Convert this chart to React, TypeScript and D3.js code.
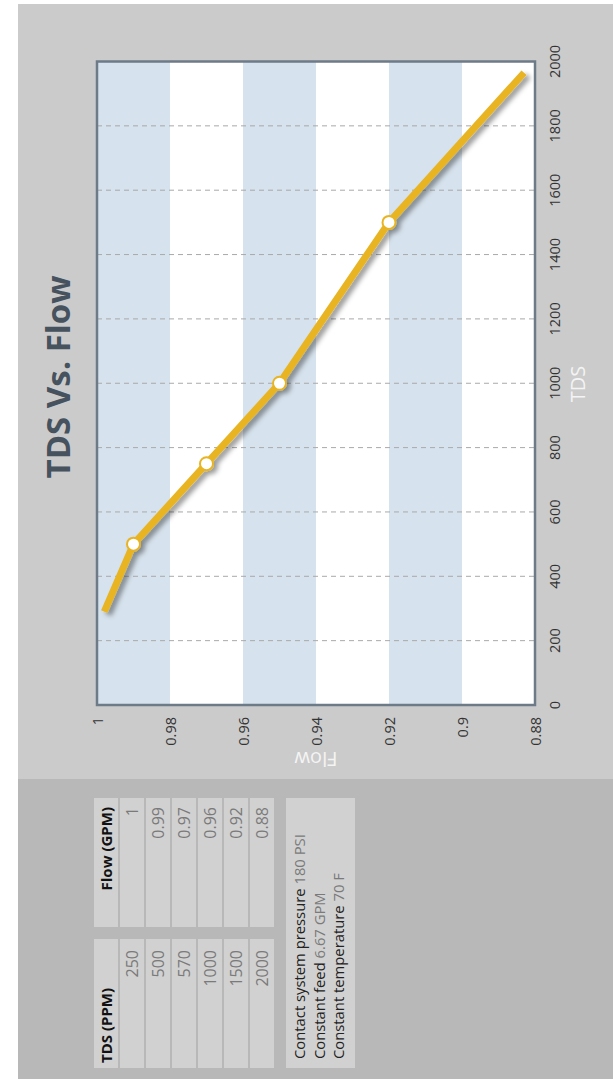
import React from "react";
import * as d3 from "d3";

// ---- data ----
const lineTDS = [290, 500, 750, 1000, 1500, 1965];
const lineFlow = [0.998, 0.99, 0.97, 0.95, 0.92, 0.883];
const hasMarker = [false, true, true, true, true, false];

const flowTicks = [1, 0.98, 0.96, 0.94, 0.92, 0.9, 0.88];
const flowTickLabels = ["1", "0.98", "0.96", "0.94", "0.92", "0.9", "0.88"];
const tdsTicks = [0, 200, 400, 600, 800, 1000, 1200, 1400, 1600, 1800, 2000];

const tableTDS = ["250", "500", "570", "1000", "1500", "2000"];
const tableFlow = ["1", "0.99", "0.97", "0.96", "0.92", "0.88"];
const noteLabels = ["Contact system pressure", "Constant feed", "Constant temperature"];
const noteValues = ["180 PSI", "6.67 GPM", "70 F"];

const FONT = "'Open Sans', 'Noto Sans', sans-serif";

export default function App() {
  const W = 613;
  const H = 1079;
  const x = d3.scaleLinear().domain([1, 0.88]).range([97, 535]);
  const y = d3.scaleLinear().domain([0, 2000]).range([705, 61.5]);

  const pts = lineTDS.map((t, i) => ({ t, f: lineFlow[i], m: hasMarker[i] }));
  const line = d3
    .line<{ t: number; f: number }>()
    .x((d) => x(d.f))
    .y((d) => y(d.t));

  const gold = "#e8b422";
  const colX = (i: number) => 94 + i * 26;
  const colW = 24;

  return (
    <svg
      width={W}
      height={H}
      style={{ position: "absolute", left: 0, top: 0, display: "block" }}
      fontFamily={FONT}
    >
      <defs>
        <filter id="shadow" x="-20%" y="-20%" width="140%" height="140%">
          <feDropShadow dx="4" dy="3" stdDeviation="2.5" floodColor="#000" floodOpacity="0.4" />
        </filter>
      </defs>
      <rect x={0} y={0} width={W} height={H} fill="#ffffff" />
      <rect x={18} y={4} width={W - 18} height={775} fill="#cbcbcb" />
      <rect x={18} y={779} width={W - 18} height={H - 779} fill="#b8b8b8" />

      {/* title */}
      <text
        transform={`translate(70,377) rotate(-90)`}
        textAnchor="middle"
        fontSize={33}
        fontWeight="bold"
        fill="#46525e"
      >
        TDS Vs. Flow
      </text>

      {/* bands */}
      {flowTicks.slice(0, -1).map((f, i) => (
        <rect
          key={"b" + i}
          x={x(f)}
          y={y(2000)}
          width={x(flowTicks[i + 1]) - x(f)}
          height={y(0) - y(2000)}
          fill={i % 2 === 0 ? "#d6e2ed" : "#ffffff"}
        />
      ))}

      {/* gridlines */}
      {tdsTicks.slice(1, -1).map((t) => (
        <line
          key={"g" + t}
          x1={x(1)}
          x2={x(0.88)}
          y1={y(t)}
          y2={y(t)}
          stroke="#a9a9a9"
          strokeWidth={1}
          strokeDasharray="5,4"
        />
      ))}

      {/* line */}
      <g filter="url(#shadow)">
        <path d={line(pts) || ""} fill="none" stroke={gold} strokeWidth={7} strokeLinejoin="round" />
        {pts
          .filter((p) => p.m)
          .map((p, i) => (
            <circle key={"m" + i} cx={x(p.f)} cy={y(p.t)} r={6.5} fill="#ffffff" stroke={gold} strokeWidth={2} />
          ))}
      </g>

      {/* frame */}
      <rect
        x={x(1)}
        y={y(2000)}
        width={x(0.88) - x(1)}
        height={y(0) - y(2000)}
        fill="none"
        stroke="#6d7a88"
        strokeWidth={2.5}
      />

      {/* TDS tick labels */}
      {tdsTicks.map((t) => (
        <text
          key={"tl" + t}
          transform={`translate(560,${y(t)}) rotate(-90)`}
          textAnchor="middle"
          fontSize={14.5}
          fill="#333"
        >
          {t}
        </text>
      ))}
      <text transform={`translate(585,384) rotate(-90)`} textAnchor="middle" fontSize={20} fill="#f4f4f4">
        TDS
      </text>

      {/* Flow tick labels */}
      {flowTicks.map((f, i) => (
        <text
          key={"fl" + i}
          transform={`translate(${x(f) + 5.5},717) rotate(-90)`}
          textAnchor="end"
          fontSize={14.5}
          fill="#333"
        >
          {flowTickLabels[i]}
        </text>
      ))}
      <text transform={`translate(316,752) rotate(180)`} textAnchor="middle" fontSize={20} fill="#f4f4f4">
        Flow
      </text>

      {/* table */}
      {[0, 1, 2, 3, 4, 5, 6].map((i) => (
        <g key={"c" + i}>
          <rect x={colX(i)} y={798} width={colW} height={129} fill="#d1d1d1" />
          <rect x={colX(i)} y={939} width={colW} height={129} fill="#d1d1d1" />
        </g>
      ))}
      <text
        transform={`translate(${colX(0) + colW / 2 + 5.5},1063) rotate(-90)`}
        textAnchor="start"
        fontSize={15}
        fontWeight="bold"
        fill="#111"
      >
        TDS (PPM)
      </text>
      <text
        transform={`translate(${colX(0) + colW / 2 + 5.5},807) rotate(-90)`}
        textAnchor="end"
        fontSize={15}
        fontWeight="bold"
        fill="#111"
      >
        Flow (GPM)
      </text>
      {tableTDS.map((v, i) => (
        <text
          key={"tt" + i}
          transform={`translate(${colX(i + 1) + colW / 2 + 5.5},950) rotate(-90)`}
          textAnchor="end"
          fontSize={16}
          fill="#7a7a7a"
        >
          {v}
        </text>
      ))}
      {tableFlow.map((v, i) => (
        <text
          key={"tf" + i}
          transform={`translate(${colX(i + 1) + colW / 2 + 5.5},807) rotate(-90)`}
          textAnchor="end"
          fontSize={16}
          fill="#7a7a7a"
        >
          {v}
        </text>
      ))}

      {/* notes */}
      <rect x={286} y={798} width={69} height={270} fill="#d1d1d1" />
      {noteLabels.map((l, i) => (
        <text
          key={"n" + i}
          transform={`translate(${305 + i * 19.5},1059) rotate(-90)`}
          textAnchor="start"
          fontSize={14.8}
          fill="#222"
        >
          {l}{" "}
          <tspan fill="#7a7a7a">{noteValues[i]}</tspan>
        </text>
      ))}
    </svg>
  );
}
